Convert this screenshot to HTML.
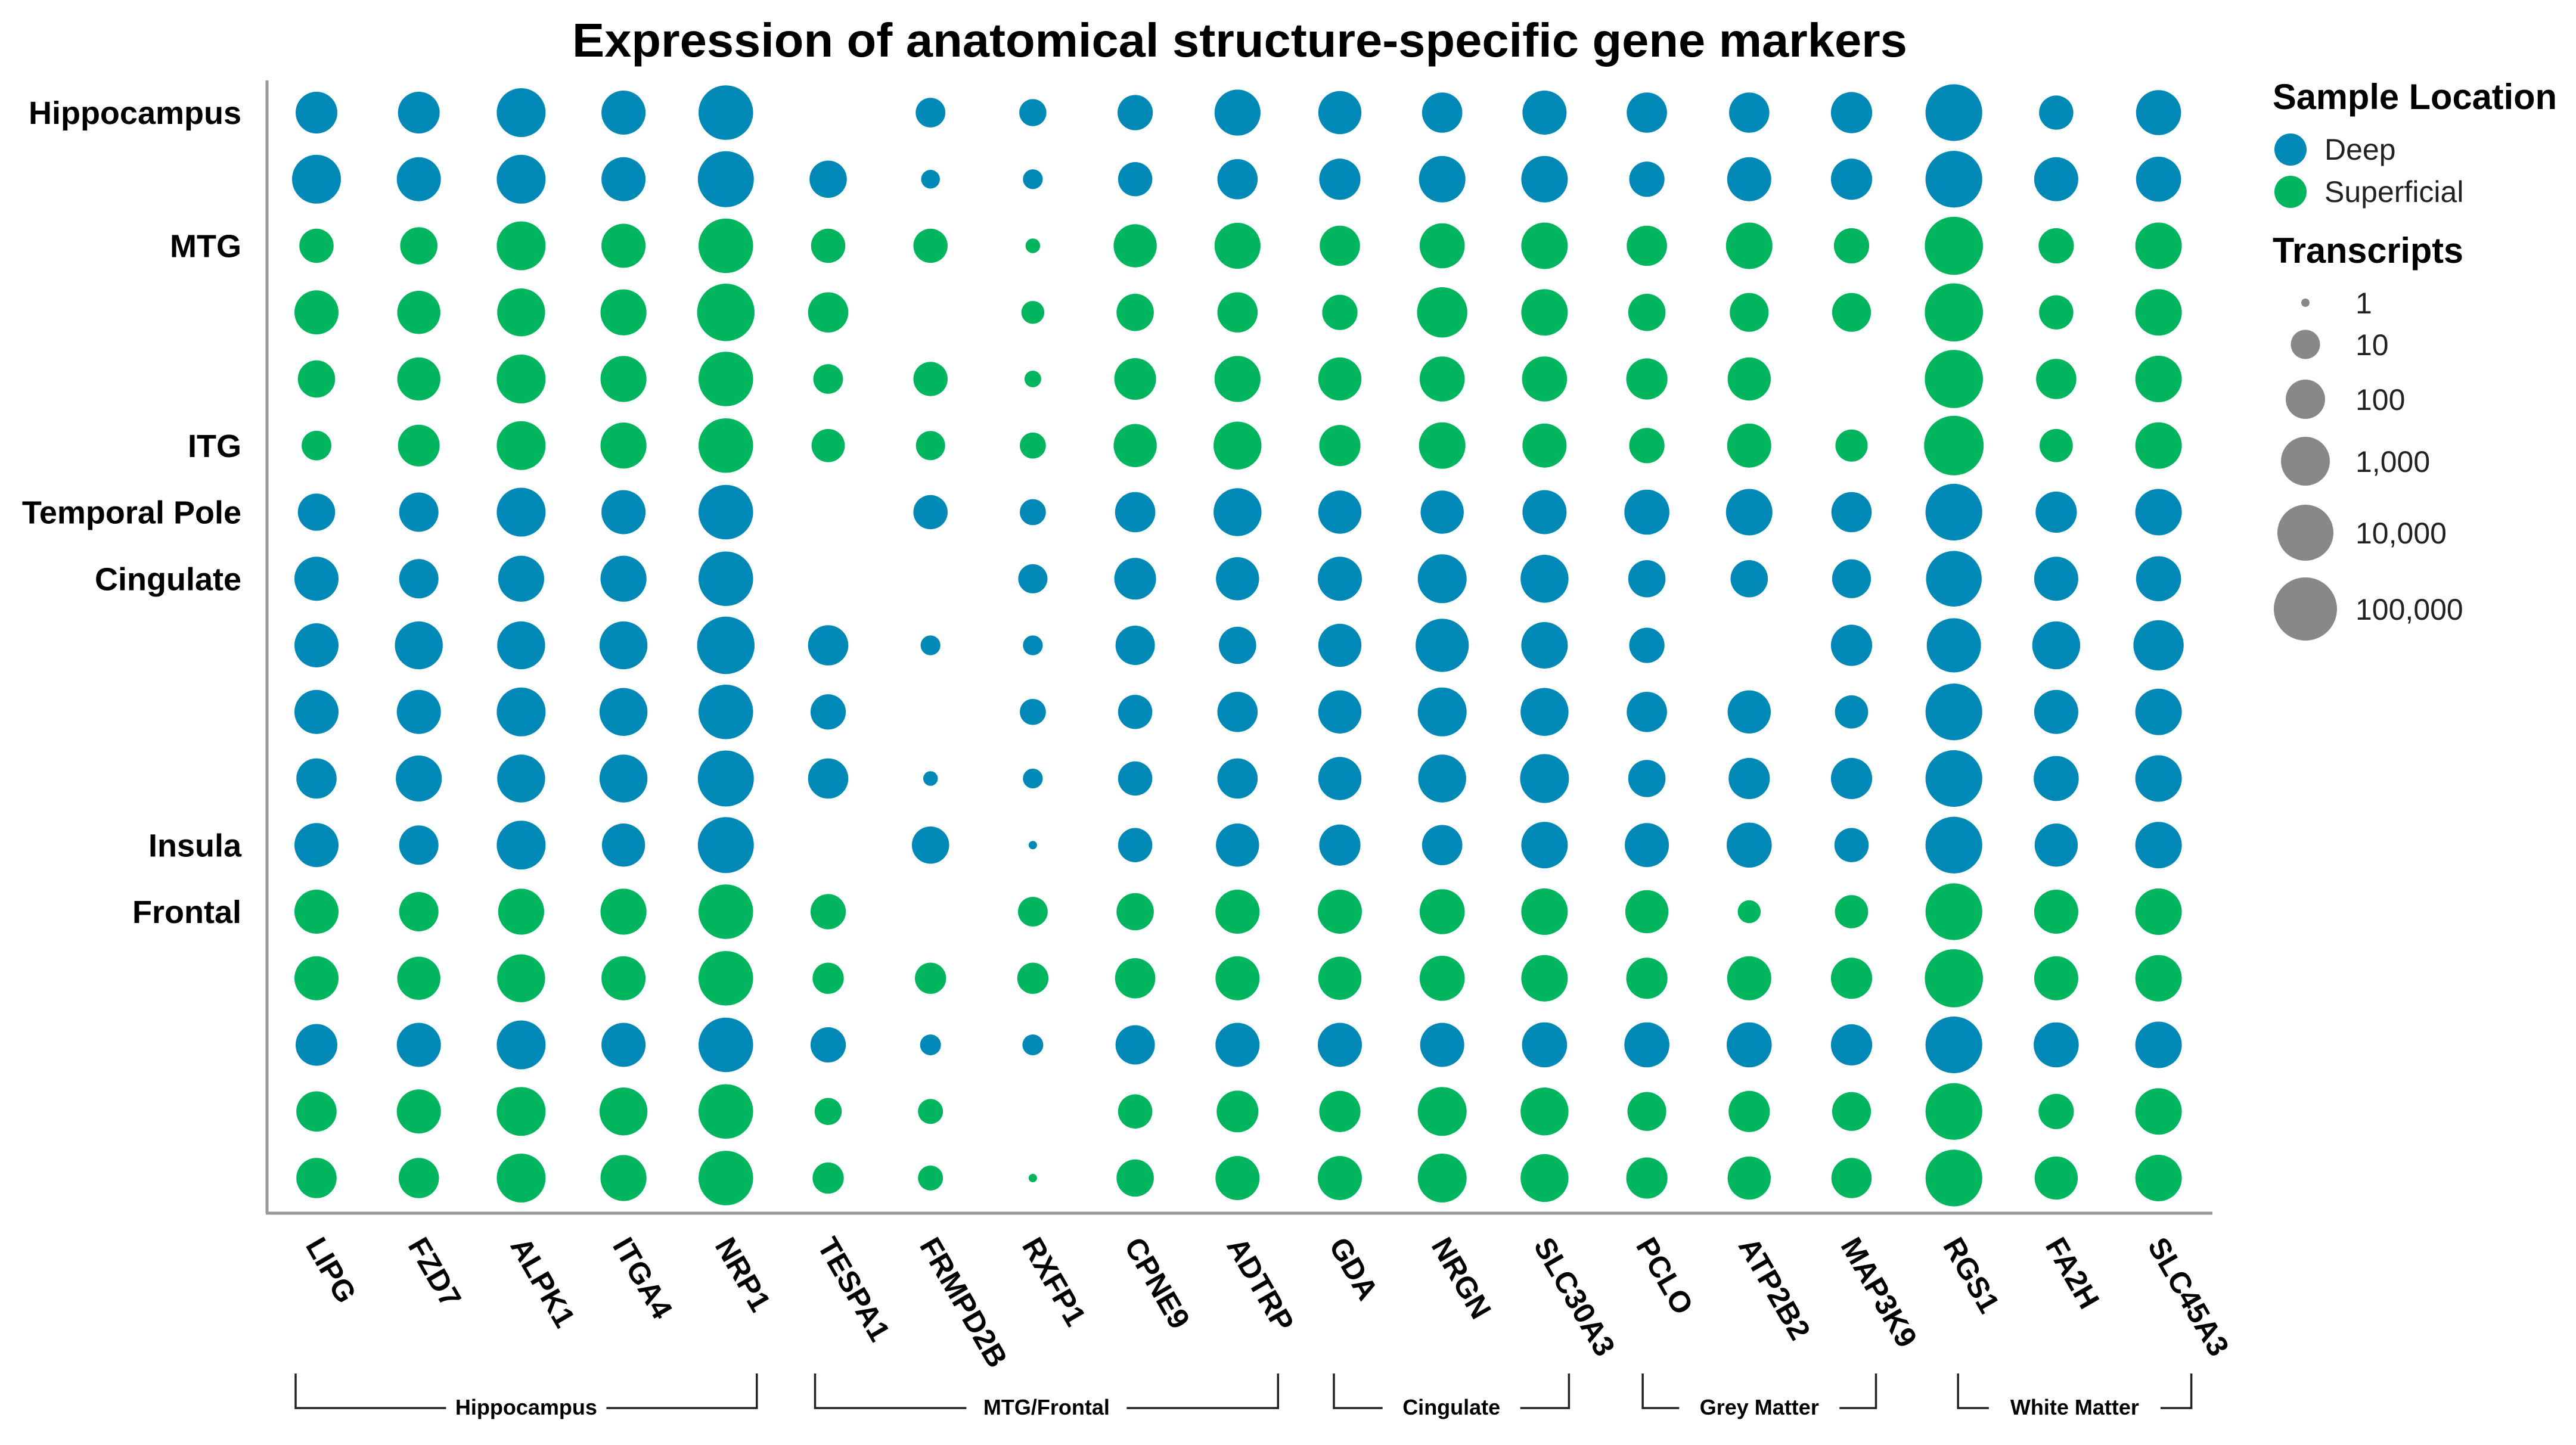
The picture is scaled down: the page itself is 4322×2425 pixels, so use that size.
<!DOCTYPE html>
<html><head><meta charset="utf-8">
<style>
html,body{margin:0;padding:0;background:#fff;}
svg{display:block;font-family:"Liberation Sans",Arial,sans-serif;}
</style></head>
<body>
<svg id="chart" xmlns="http://www.w3.org/2000/svg" width="4322" height="2425" viewBox="0 0 4322 2425">
<rect x="0" y="0" width="4322" height="2425" fill="#fff"/>
<text x="2080" y="95" text-anchor="middle" font-size="80" font-weight="bold" textLength="2240" lengthAdjust="spacingAndGlyphs">Expression of anatomical structure-specific gene markers</text>
<line x1="448" y1="135" x2="448" y2="2036" stroke="#999" stroke-width="5"/>
<line x1="446" y1="2036" x2="3712" y2="2036" stroke="#999" stroke-width="5"/>
<g id="dots"></g>
<g id="xlabels"></g>
<g id="ylabels"></g>
<g id="brackets"></g>
<g>
<text x="3813" y="183" font-size="60" font-weight="bold" textLength="477" lengthAdjust="spacingAndGlyphs">Sample Location</text>
<circle cx="3843" cy="251" r="27" fill="#0089b7"/>
<text x="3900" y="268" font-size="50" fill="#222">Deep</text>
<circle cx="3843" cy="322" r="27" fill="#00b55e"/>
<text x="3900" y="339" font-size="50" fill="#222">Superficial</text>
<text x="3813" y="441" font-size="60" font-weight="bold" textLength="320" lengthAdjust="spacingAndGlyphs">Transcripts</text>
<g id="sizeLegend"></g>
</g>
</svg>
<script>
const genes = ["LIPG","FZD7","ALPK1","ITGA4","NRP1","TESPA1","FRMPD2B","RXFP1","CPNE9","ADTRP","GDA","NRGN","SLC30A3","PCLO","ATP2B2","MAP3K9","RGS1","FA2H","SLC45A3"];
const sampleLocation = ["Deep","Deep","Superficial","Superficial","Superficial","Superficial","Deep","Deep","Deep","Deep","Deep","Deep","Superficial","Superficial","Deep","Superficial","Superficial"];
const regionLabels = [["Hippocampus",0],["MTG",2],["ITG",5],["Temporal Pole",6],["Cingulate",7],["Insula",11],["Frontal",12]];
// log10 transcript counts per sample row (null = not detected)
const s01 = [2.25,2.25,3,2.5,3.8,null,1.05,0.9,1.6,2.7,2.4,2.1,2.5,2.1,2.1,2.2,4.1,1.5,2.6];
const s02 = [3,2.5,3,2.5,4,1.8,0.5,0.55,1.5,2.1,2.2,2.75,2.75,1.6,2.5,2.2,4.1,2.5,2.6];
const s03 = [1.5,1.8,3,2.5,3.8,1.5,1.5,0.3,2.4,2.7,2.1,2.6,2.75,2.1,2.75,1.6,4.3,1.6,2.75];
const s04 = [2.5,2.4,2.9,2.7,4.2,2.1,null,0.7,1.8,2.1,1.6,3.2,2.75,1.8,1.95,1.95,4.3,1.5,2.75];
const s05 = [1.8,2.4,3,2.7,3.8,1.05,1.5,0.4,2.25,2.7,2.4,2.6,2.6,2.2,2.4,null,4.3,2.1,2.75];
const s06 = [1.05,2.25,3,2.7,3.8,1.4,1,0.85,2.4,2.9,2.2,2.75,2.5,1.6,2.5,1.3,4.5,1.4,2.75];
const s07 = [1.8,2,3,2.5,3.8,null,1.5,0.85,2.1,2.9,2.4,2.4,2.5,2.6,2.75,2.1,4.1,2.2,2.75];
const s08 = [2.5,2,2.7,2.7,3.8,null,null,1,2.25,2.4,2.5,3,2.9,1.8,1.8,1.95,3.95,2.5,2.6];
const s09 = [2.5,2.9,2.9,2.9,4.2,2.1,0.55,0.55,2,1.8,2.4,3.6,2.75,1.6,null,2.2,3.75,2.9,3.2];
const s10 = [2.5,2.5,3,2.9,3.8,1.6,null,0.85,1.5,2.1,2.4,3,2.9,2.1,2.4,1.4,4.1,2.5,2.75];
const s11 = [2.1,2.7,2.9,2.9,4,2.1,0.3,0.55,1.5,2.1,2.4,2.9,3,1.8,2.2,2.2,4.1,2.6,2.75];
const s12 = [2.5,2,3,2.4,4,null,1.8,0,1.5,2.4,2.2,2.1,2.75,2.5,2.6,1.5,4.1,2.4,2.75];
const s13 = [2.5,2,2.7,2.7,3.8,1.6,null,1.05,1.8,2.5,2.5,2.6,2.75,2.4,0.7,1.4,4.1,2.5,2.75];
const s14 = [2.5,2.4,2.9,2.5,3.8,1.2,1.2,1.2,2.1,2.5,2.4,2.6,2.75,2.2,2.5,2.2,4.3,2.5,2.75];
const s15 = [2.25,2.5,3,2.5,3.8,1.6,0.6,0.6,2,2.5,2.5,2.5,2.6,2.6,2.6,2.2,4.1,2.6,2.75];
const s16 = [2.1,2.5,3,2.9,3.8,0.9,0.8,null,1.5,2.25,2.2,3,2.9,1.95,2.2,1.95,4.1,1.6,2.75];
const s17 = [2.1,2.1,3,2.7,3.8,1.2,0.8,0,1.8,2.5,2.5,3,2.9,2.2,2.4,2.1,4.1,2.4,2.75];
const sizeLegendValues = [0,1,2,3,4,5];
const sizeLegendLabels = ["1","10","100","1,000","10,000","100,000"];
const groupNames = ["Hippocampus","MTG/Frontal","Cingulate","Grey Matter","White Matter"];
const groupStart = [0,5,10,13,16];
const groupEnd = [4,9,12,15,18];

const rows = [s01,s02,s03,s04,s05,s06,s07,s08,s09,s10,s11,s12,s13,s14,s15,s16,s17];
const NS = "http://www.w3.org/2000/svg";
const COLORS = {Deep:"#0089b7", Superficial:"#00b55e"};
const xPos = i => 531 + i*171.7;
const yPos = j => 189 + j*111.75;
const RADII = [7,24.5,33,41,47,53];
const bracketPadL = [-35,-22,-10,-7,7];
const bracketPadR = [52,68,41,41,55];
function rScale(v){
  if (v<=0) return RADII[0];
  if (v>=5) return RADII[5];
  const k = Math.floor(v), f = v-k;
  return RADII[k] + (RADII[k+1]-RADII[k])*f;
}
function mk(tag, attrs, parent){
  const e = document.createElementNS(NS, tag);
  for (const k in attrs) e.setAttribute(k, attrs[k]);
  parent.appendChild(e);
  return e;
}
const dots = document.getElementById("dots");
rows.forEach((row, j) => {
  row.forEach((v, i) => {
    if (v === null) return;
    const c = mk("circle", {cx:xPos(i), cy:yPos(j), r:rScale(v), fill:COLORS[sampleLocation[j]]}, dots);
    
    
  });
});
const xl = document.getElementById("xlabels");
genes.forEach((g, i) => {
  const x = xPos(i) - 8, y = 2083;
  const t = mk("text", {x:x, y:y, "font-size":50, "font-weight":"bold", transform:`rotate(60 ${x} ${y})`, "dominant-baseline":"middle"}, xl);
  t.textContent = g;
  
  
});
const yl = document.getElementById("ylabels");
regionLabels.forEach(([name, j]) => {
  const t = mk("text", {x:405, y:yPos(j)+19, "font-size":54, "font-weight":"bold", "text-anchor":"end"}, yl);
  t.textContent = name;
  
  
});
const br = document.getElementById("brackets");
groupNames.forEach((name, k) => {
  const x1 = xPos(groupStart[k]) + bracketPadL[k], x2 = xPos(groupEnd[k]) + bracketPadR[k];
  const cx = (x1+x2)/2;
  const half = name.length*9.5 + 30;
  const p = mk("path", {d:`M${x1} 2305 V2363 H${cx-half} M${cx+half} 2363 H${x2} V2305`, fill:"none", stroke:"#222", "stroke-width":3.5}, br);
  
  
  const t = mk("text", {x:cx, y:2374, "font-size":36, "font-weight":"bold", "text-anchor":"middle"}, br);
  t.textContent = name;
  
  
});
const sl = document.getElementById("sizeLegend");
const legY = [508,578,670,774,894,1022];
sizeLegendValues.forEach((v, k) => {
  const c = mk("circle", {cx:3868, cy:legY[k], r:rScale(v), fill:"#888"}, sl);
  
  
  const t = mk("text", {x:3952, y:legY[k]+18, "font-size":50, fill:"#222"}, sl);
  t.textContent = sizeLegendLabels[k];
  
  
});
</script>
</body></html>
